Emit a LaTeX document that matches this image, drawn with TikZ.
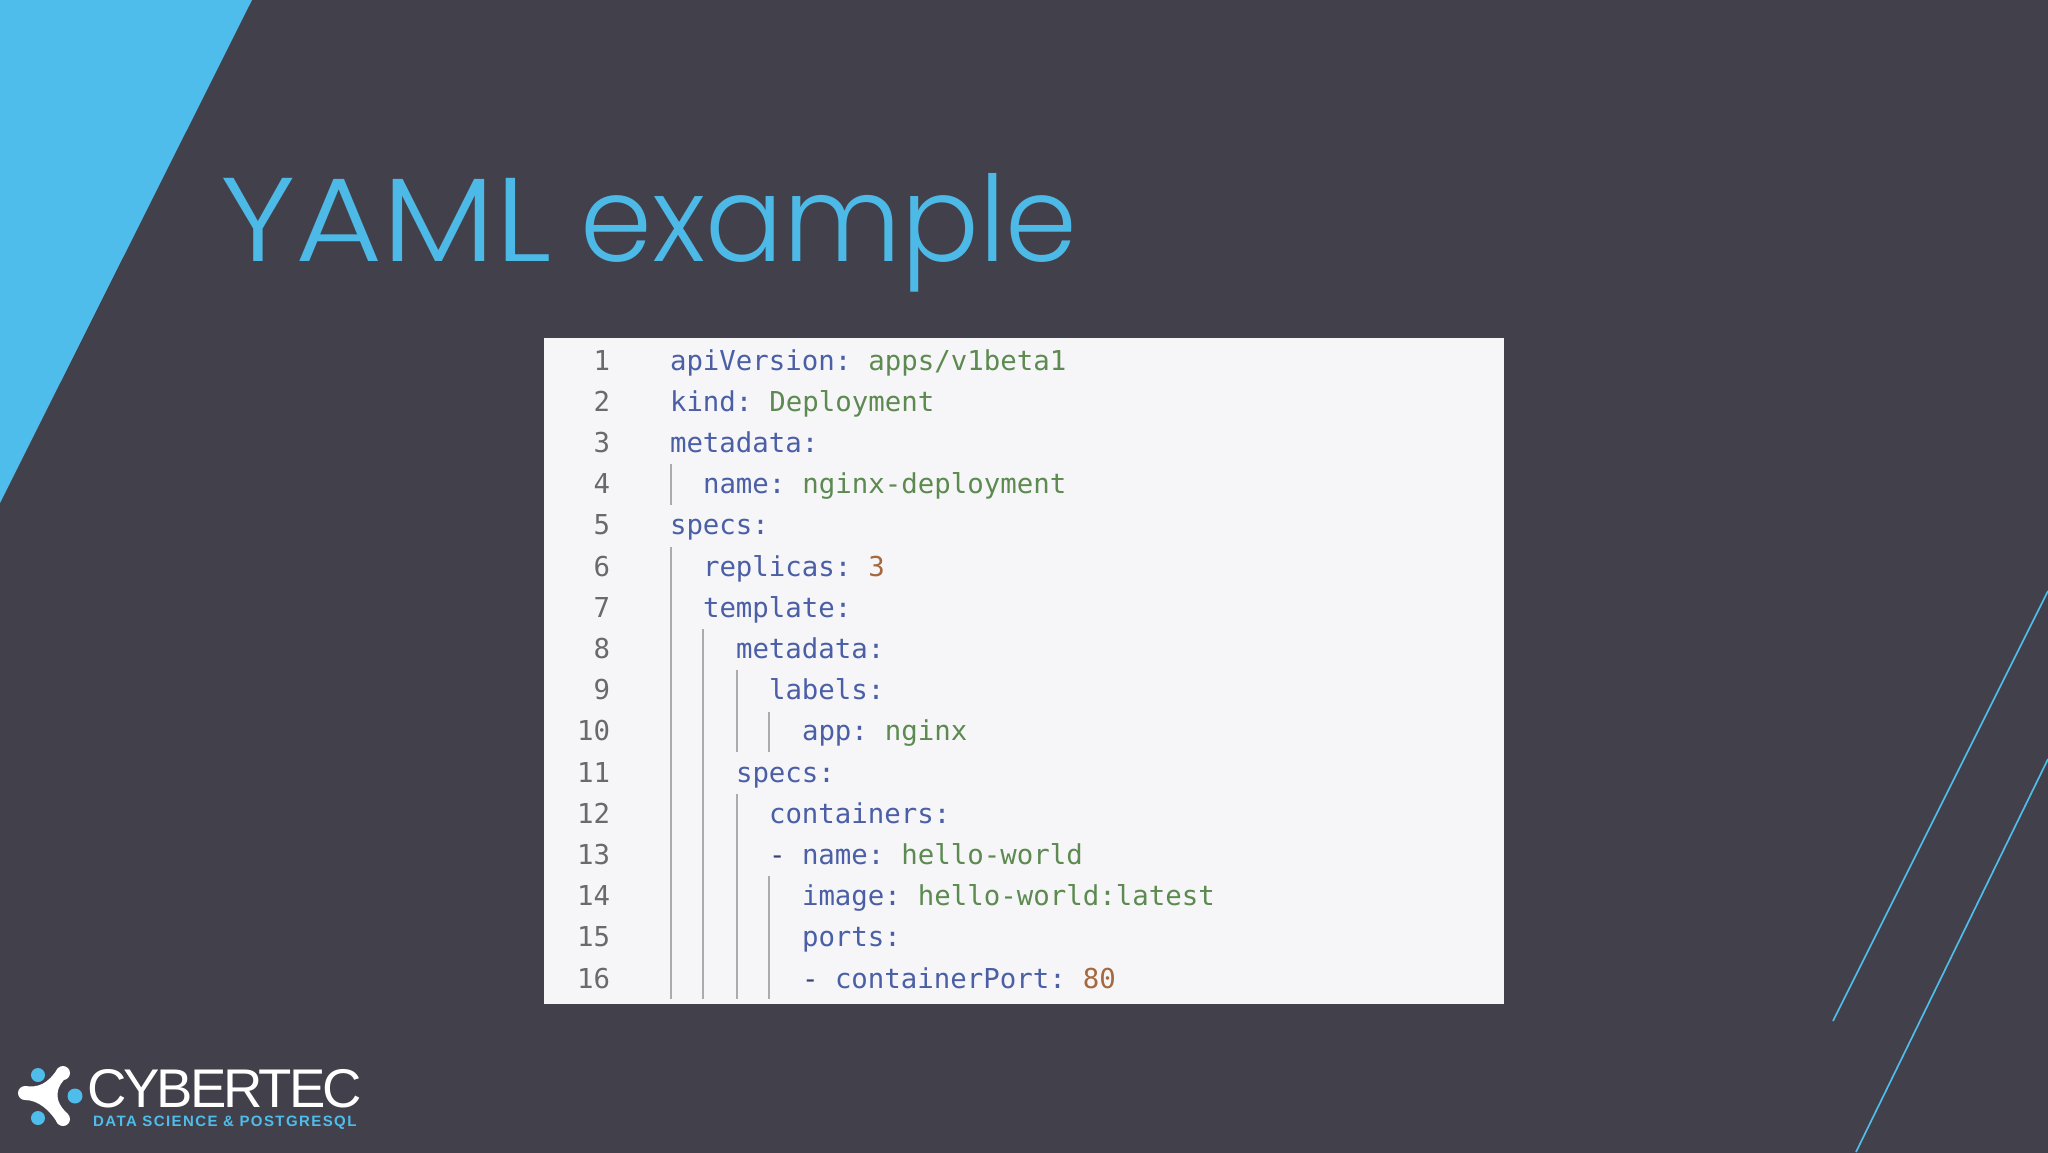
\documentclass[tikz,border=0pt]{standalone}
\usepackage{fontspec}
\usepackage{graphicx}
\setmainfont{DejaVu Sans Mono}
\newfontfamily\titlefont{Poppins Light}
\newfontfamily\logofont[LetterSpace=-5.5]{Liberation Sans}
\newfontfamily\subfont[LetterSpace=9.4]{Liberation Sans}
\definecolor{bgc}{HTML}{42404A}
\definecolor{sky}{HTML}{4FBDEB}
\definecolor{titlec}{HTML}{4DB9E6}
\definecolor{paper}{HTML}{F6F6F8}
\definecolor{keyc}{HTML}{4A5FA6}
\definecolor{valc}{HTML}{5C8A50}
\definecolor{numc}{HTML}{A5683F}
\definecolor{lnc}{HTML}{6A6A6A}
\definecolor{guide}{HTML}{ABABAB}
\newcommand{\K}[1]{\textcolor{keyc}{#1}}
\newcommand{\V}[1]{\hspace{-5pt}\textcolor{valc}{#1}}
\newcommand{\N}[1]{\hspace{-5pt}\textcolor{numc}{#1}}
\tikzset{
  code/.style={anchor=base west,inner sep=0pt,outer sep=0pt,font=\fontsize{27.4}{30}\selectfont},
  lineno/.style={anchor=base east,inner sep=0pt,outer sep=0pt,text=lnc,font=\fontsize{27.4}{30}\selectfont},
  guideline/.style={draw=guide,line width=1.5pt},
  accent/.style={draw=sky,line width=1.7pt},
  dot/.style={fill=sky,draw=none},
  blob/.style={fill=white,draw=none}
}
\begin{document}
\begin{tikzpicture}[x=1pt,y=-1pt]
\useasboundingbox (0,0) rectangle (2048,1152);
\fill[bgc] (-6,-6) rectangle (2054,1158);
\fill[sky] (0,0) -- (252,0) -- (0,503) -- cycle;
\draw[accent] (2048,591) -- (1833,1021);
\draw[accent] (2048,759) -- (1856,1152);
\node[anchor=base west,inner sep=0pt,text=titlec,font=\titlefont\fontsize{119}{130}\selectfont] (title) at (220,261) {\scalebox{1.125}[1]{YAML}\hspace{-4pt} \scalebox{0.97}[1]{example}};
\fill[paper] (544,338) rectangle (1504,1004);
% guides
\draw[guideline] (671,464) -- (671,505);
\draw[guideline] (671,547) -- (671,999);
\draw[guideline] (703,629) -- (703,999);
\draw[guideline] (737,670) -- (737,752);
\draw[guideline] (737,794) -- (737,999);
\draw[guideline] (769,712) -- (769,752);
\draw[guideline] (769,876) -- (769,999);
% line numbers
\foreach \n in {1,...,16}{
  \node[lineno] (n\n) at (610,{370+41.2*(\n-1)}) {\n};
}
% code
\node[code] (l1) at (670,370.0) {\K{apiVersion:} \V{apps/v1beta1}};
\node[code] (l2) at (670,411.2) {\K{kind:} \V{Deployment}};
\node[code] (l3) at (670,452.4) {\K{metadata:}};
\node[code] (l4) at (703,493.6) {\K{name:} \V{nginx-deployment}};
\node[code] (l5) at (670,534.8) {\K{specs:}};
\node[code] (l6) at (703,576.0) {\K{replicas:} \N{3}};
\node[code] (l7) at (703,617.2) {\K{template:}};
\node[code] (l8) at (736,658.4) {\K{metadata:}};
\node[code] (l9) at (769,699.6) {\K{labels:}};
\node[code] (l10) at (802,740.8) {\K{app:} \V{nginx}};
\node[code] (l11) at (736,782.0) {\K{specs:}};
\node[code] (l12) at (769,823.2) {\K{containers:}};
\node[code] (l13) at (769,864.4) {\textcolor{keyc!70!black}{-} \K{name:} \V{hello-world}};
\node[code] (l14) at (802,905.6) {\K{image:} \V{hello-world:latest}};
\node[code] (l15) at (802,946.8) {\K{ports:}};
\node[code] (l16) at (802,988.0) {\textcolor{keyc!70!black}{-} \K{containerPort:} \N{80}};
% logo icon
\fill[blob] (25,1093) circle (7);
\fill[blob] (63,1073) circle (7);
\fill[blob] (63,1119) circle (7);
\fill[blob] (25,1086) .. controls (38,1088) and (48,1084) .. (58,1068)
  -- (68,1076) .. controls (56,1086) and (52,1100) .. (68,1114)
  -- (58,1124) .. controls (50,1110) and (38,1100) .. (25,1100) -- cycle;
\fill[dot] (38,1075) circle (7);
\fill[dot] (75,1096) circle (7.5);
\fill[dot] (38,1118) circle (7);
% logo text
\node[anchor=base west,inner sep=0pt,text=white,font=\logofont\fontsize{54.5}{60}\selectfont] (logo) at (87,1107) {CYBERTEC};
\node[anchor=base west,inner sep=0pt,text=sky,font=\subfont\bfseries\fontsize{15}{16}\selectfont] (sub) at (93,1126.5) {DATA SCIENCE \& POSTGRESQL};
\end{tikzpicture}
\end{document}
